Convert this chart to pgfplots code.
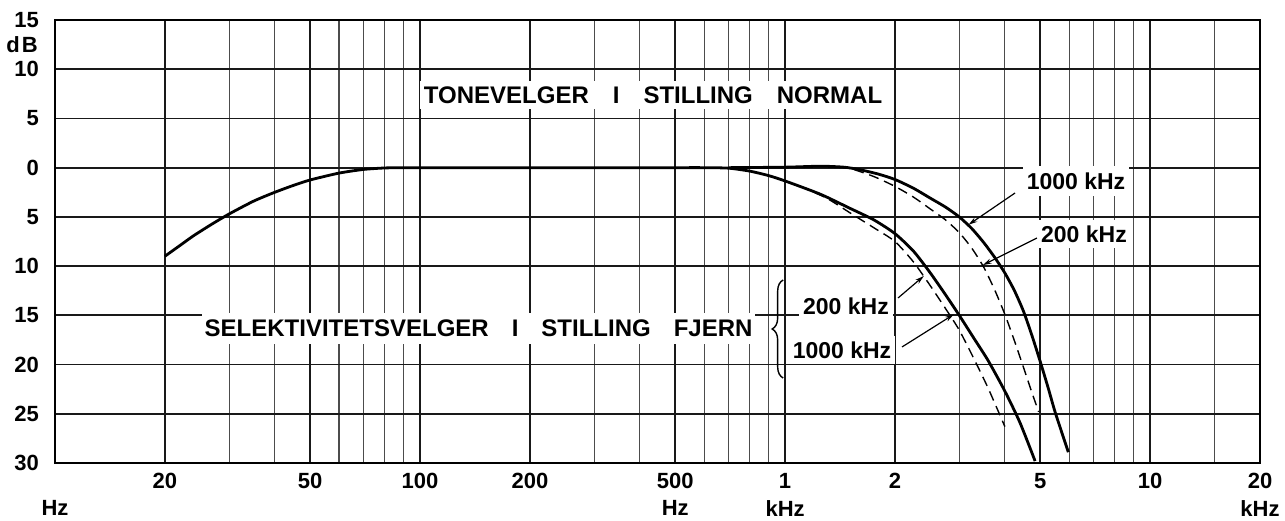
\documentclass[border=0pt]{standalone}
\usepackage{fontspec}
\setmainfont{Liberation Sans}
\usepackage{pgfplots}
\pgfplotsset{compat=1.18}
\usetikzlibrary{arrows.meta,decorations.pathreplacing}

\newcommand{\tf}{\bfseries\fontsize{22}{24}\selectfont}
\newcommand{\bigf}{\bfseries\fontsize{24}{26}\selectfont}
\newcommand{\khf}{\bfseries\fontsize{23}{25}\selectfont}

\begin{document}
\begin{tikzpicture}
\useasboundingbox (-55pt,-57pt) rectangle (1230pt,463pt);
\begin{axis}[
  scale only axis, width=1205pt, height=443pt,
  xmode=log, log basis x=10,
  xmin=10, xmax=20000, ymin=-30, ymax=15,
  xtick={20,50,100,200,500,1000,2000,5000,10000,20000},
  xticklabels={20,50,100,200,500,1,2,5,10,20},
  minor xtick={30,40,60,70,80,90,300,400,600,700,800,900,3000,4000,6000,7000,8000,9000,15000},
  ytick={-30,-25,-20,-15,-10,-5,0,5,10,15},
  yticklabels={30,25,20,15,10,5,0,5,10,15},
  grid=both,
  major grid style={black!90, line width=1.8pt},
  minor grid style={black!70, line width=1.2pt},
  major tick length=0pt, minor tick length=0pt,
  tick style={draw=none},
  axis line style={black, line width=2pt},
  tick label style={font=\tf},
  xticklabel style={anchor=north, inner sep=0pt, yshift=-10pt},
  yticklabel style={anchor=east, inner sep=0pt, xshift=-16pt},
  clip=false,
]
% lower (FJERN) solid, incl. low-frequency part
\addplot[black, line width=2.8pt, smooth, tension=0.4] coordinates {
(20,-9.0)(22,-7.9)(24,-6.9)(27,-5.7)(30,-4.7)(35,-3.4)(40,-2.5)(45,-1.8)(50,-1.25)(60,-0.55)(70,-0.18)(80,-0.03)(90,0)(100,0)(150,0)(200,0)(300,0)(400,0)(500,0)(600,0)(700,-0.05)(800,-0.35)(900,-0.8)(1000,-1.35)(1250,-2.7)(1500,-4.1)(1750,-5.3)(2000,-6.7)(2250,-8.5)(2500,-10.7)(2750,-12.9)(3000,-15.0)(3300,-17.4)(3600,-19.6)(4000,-22.7)(4400,-25.9)(4840,-29.8)};
% lower dashed
\addplot[black, line width=1.4pt, dash pattern=on 10pt off 6pt, smooth, tension=0.4] coordinates {
(1100,-1.9)(1300,-3.1)(1530,-4.75)(1750,-6.1)(2000,-7.5)(2250,-9.6)(2500,-12.0)(2750,-14.3)(3000,-16.5)(3300,-19.5)(3600,-22.4)(4000,-26.3)};
% upper (NORMAL) solid
\addplot[black, line width=2.8pt, smooth, tension=0.4] coordinates {
(700,0)(1000,0.05)(1250,0.15)(1450,0.05)(1600,-0.2)(1800,-0.65)(2000,-1.2)(2250,-2.1)(2500,-3.1)(2750,-4.0)(3000,-5.0)(3250,-6.2)(3500,-7.6)(3750,-9.1)(4000,-10.7)(4250,-12.5)(4500,-14.6)(4750,-17.1)(5000,-19.7)(5250,-22.3)(5500,-24.9)(5970,-28.9)};
% upper dashed
\addplot[black, line width=1.4pt, dash pattern=on 10pt off 6pt, smooth, tension=0.4] coordinates {
(1400,0.1)(1530,-0.15)(1750,-0.9)(2000,-1.9)(2250,-3.0)(2500,-4.2)(2750,-5.3)(3000,-6.6)(3250,-8.2)(3500,-10.1)(3750,-12.4)(4000,-14.9)(4250,-17.6)(4500,-20.3)(4750,-22.9)(4950,-24.8)};

% texts
\node[fill=white, inner xsep=4pt, inner ysep=6pt, font=\bigf] at (rel axis cs:0.4963,0.8307)
  {TONEVELGER\hspace{24pt}I\hspace{24pt}STILLING\hspace{24pt}NORMAL};
\node[fill=white, inner xsep=3pt, inner ysep=7pt, font=\bigf] at (rel axis cs:0.3515,0.3047)
  {SELEKTIVITETSVELGER\hspace{23pt}I\hspace{23pt}STILLING\hspace{23pt}FJERN};
\node[fill=white, inner xsep=4pt, inner ysep=6pt, font=\khf] at (rel axis cs:0.6564,0.3544) {200 kHz};
\node[fill=white, inner xsep=4pt, inner ysep=6pt, font=\khf] at (rel axis cs:0.6531,0.2551) {1000 kHz};
\node[fill=white, inner xsep=4pt, inner ysep=7pt, font=\khf] at (rel axis cs:0.8473,0.6366) {1000 kHz};
\node[fill=white, inner xsep=4pt, inner ysep=6pt, font=\khf] at (rel axis cs:0.8539,0.5169) {200 kHz};

% brace
\draw[black, line width=1.4pt, decorate, decoration={brace, amplitude=11pt}]
  (rel axis cs:0.6043,0.1919) -- (rel axis cs:0.6043,0.4131);

% leader arrows
\draw[black, line width=1.2pt, -{Stealth[length=9pt,width=5pt]}] (rel axis cs:0.7967,0.6095) -- (axis cs:3180,-5.8);
\draw[black, line width=1.2pt, -{Stealth[length=9pt,width=5pt]}] (rel axis cs:0.8149,0.5079) -- (axis cs:3480,-9.9);
\draw[black, line width=1.2pt, -{Stealth[length=9pt,width=5pt]}] (rel axis cs:0.6996,0.3725) -- (axis cs:2400,-11.0);
\draw[black, line width=1.2pt, -{Stealth[length=9pt,width=5pt]}] (rel axis cs:0.7029,0.2619) -- (axis cs:2900,-14.9);

% unit labels
\node[font=\tf, anchor=east, inner sep=0pt] at (rel axis cs:0,0.9436) [xshift=-17pt] {d\kern2pt B};
\node[font=\tf, anchor=north, inner sep=0pt] at (axis cs:10,-30) [yshift=-37pt] {Hz};
\node[font=\tf, anchor=north, inner sep=0pt] at (axis cs:500,-30) [yshift=-37pt] {Hz};
\node[font=\tf, anchor=north, inner sep=0pt] at (axis cs:1000,-30) [yshift=-37pt] {kHz};
\node[font=\tf, anchor=north, inner sep=0pt] at (axis cs:20000,-30) [yshift=-37pt] {kHz};
\end{axis}
\end{tikzpicture}
\end{document}
